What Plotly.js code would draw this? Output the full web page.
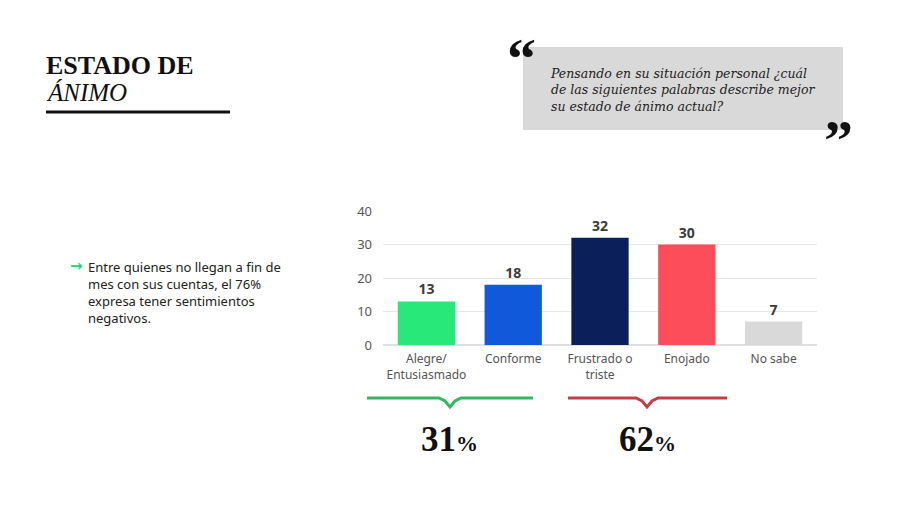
<!DOCTYPE html>
<html>
<head>
<meta charset="utf-8">
<script src="https://cdn.plot.ly/plotly-3.0.1.min.js"></script>
<style>
html,body{margin:0;padding:0;background:#fff;}
#chart{width:900px;height:505px;}
</style>
</head>
<body>
<div id="chart"></div>
<script>
const categories = ["Alegre/<br>Entusiasmado", "Conforme", "Frustrado o<br>triste", "Enojado", "No sabe"];
const values = [13, 18, 32, 30, 7];
const barColors = ["#27e879", "#0f59da", "#0b1f5b", "#fd4d5a", "#d9d9d9"];
const yTicks = [0, 10, 20, 30, 40];
const groupLabels = ["31", "62"];

// plot area in pixels
const L = 383, R = 817, T = 211, B = 345;
const W = 900, H = 505;
const px = x => (x - L) / (R - L);
const py = y => (B - y) / (B - T);

const serif = "Liberation Serif, serif";
const sans = "Noto Sans, Open Sans, sans-serif";

const trace = {
  type: "bar",
  x: categories,
  y: values,
  marker: {color: barColors},
  text: values.map(String),
  textposition: "outside",
  textfont: {family: sans, size: 14, color: "#3b3b3b", weight: "bold"},
  cliponaxis: false,
  hoverinfo: "skip"
};

const annotations = [
  {text: "<b>ESTADO DE</b>", x: px(44), y: py(65), xanchor: "left", yanchor: "middle",
   font: {family: serif, size: 26, color: "#111"}},
  {text: "<i>ÁNIMO</i>", x: px(44), y: py(92), xanchor: "left", yanchor: "middle",
   font: {family: serif, size: 25, color: "#111"}},
  {text: "<b>“</b>", x: px(521), y: py(58), xanchor: "center", yanchor: "middle",
   font: {family: serif, size: 58, color: "#111"}},
  {text: "<b>”</b>", x: px(838), y: py(140), xanchor: "center", yanchor: "middle",
   font: {family: serif, size: 58, color: "#111"}},
  {text: "<i>Pensando en su situación personal ¿cuál<br>de las siguientes palabras describe mejor<br>su estado de ánimo actual?</i>",
   x: px(548), y: py(90), xanchor: "left", yanchor: "middle", align: "left",
   font: {family: "DejaVu Serif, serif", size: 12.5, color: "#222"}},
  {text: "<b>→</b>",
   x: px(68), y: py(266), xanchor: "left", yanchor: "middle",
   font: {family: "DejaVu Sans, sans-serif", size: 15, color: "#2ecc71"}},
  {text: "Entre quienes no llegan a fin de<br>mes con sus cuentas, el 76%<br>expresa tener sentimientos<br>negativos.",
   x: px(86), y: py(292), xanchor: "left", yanchor: "middle", align: "left",
   font: {family: sans, size: 13, color: "#222"}},
  {text: "<b>" + groupLabels[0] + "<span style='font-size:22px'>%</span></b>", x: px(449), y: py(439),
   xanchor: "center", yanchor: "middle", font: {family: serif, size: 35, color: "#111"}},
  {text: "<b>" + groupLabels[1] + "<span style='font-size:22px'>%</span></b>", x: px(647), y: py(439),
   xanchor: "center", yanchor: "middle", font: {family: serif, size: 35, color: "#111"}}
].map(a => Object.assign({xref: "paper", yref: "paper", showarrow: false}, a));

function bracket(x1, x2, xc, y, color) {
  const p = (x, yy) => px(x) + "," + py(yy);
  return {
    type: "path", xref: "paper", yref: "paper",
    path: "M" + p(x1, y) + " L" + p(xc - 11, y) + " L" + p(xc - 5, y + 3) + " L" + p(xc, y + 9) +
          " L" + p(xc + 5, y + 3) + " L" + p(xc + 11, y) + " L" + p(x2, y),
    line: {color: color, width: 3}
  };
}

const shapes = [
  {type: "rect", xref: "paper", yref: "paper", x0: px(523), x1: px(843), y0: py(47), y1: py(130),
   fillcolor: "#d9d9d9", line: {width: 0}, layer: "below"},
  {type: "line", xref: "paper", yref: "paper", x0: px(46), x1: px(230), y0: py(112), y1: py(112),
   line: {color: "#111", width: 3}},
  bracket(367, 533, 450, 398, "#33b760"),
  bracket(568, 727, 647, 398, "#c53d45")
];

const layout = {
  width: W, height: H,
  margin: {l: L, r: W - R, t: T, b: H - B, pad: 0},
  paper_bgcolor: "#fff", plot_bgcolor: "#fff",
  showlegend: false,
  bargap: 0.34,
  xaxis: {
    showgrid: false, zeroline: false, showline: false, ticks: "",
    ticklabelstandoff: 5,
    tickfont: {family: sans, size: 12, color: "#555"}, fixedrange: true
  },
  yaxis: {
    range: [0, 40], tickvals: yTicks, ticktext: yTicks.map(String),
    showgrid: true, gridcolor: "#e6e6e6", gridwidth: 1,
    zeroline: true, zerolinecolor: "#e0e0e0", zerolinewidth: 1.5,
    showline: false, ticks: "", ticklabelstandoff: 10,
    tickfont: {family: sans, size: 13, color: "#555"}, fixedrange: true
  },
  annotations: annotations,
  shapes: shapes
};

Plotly.newPlot("chart", [trace], layout, {displayModeBar: false, staticPlot: true});
</script>
</body>
</html>
